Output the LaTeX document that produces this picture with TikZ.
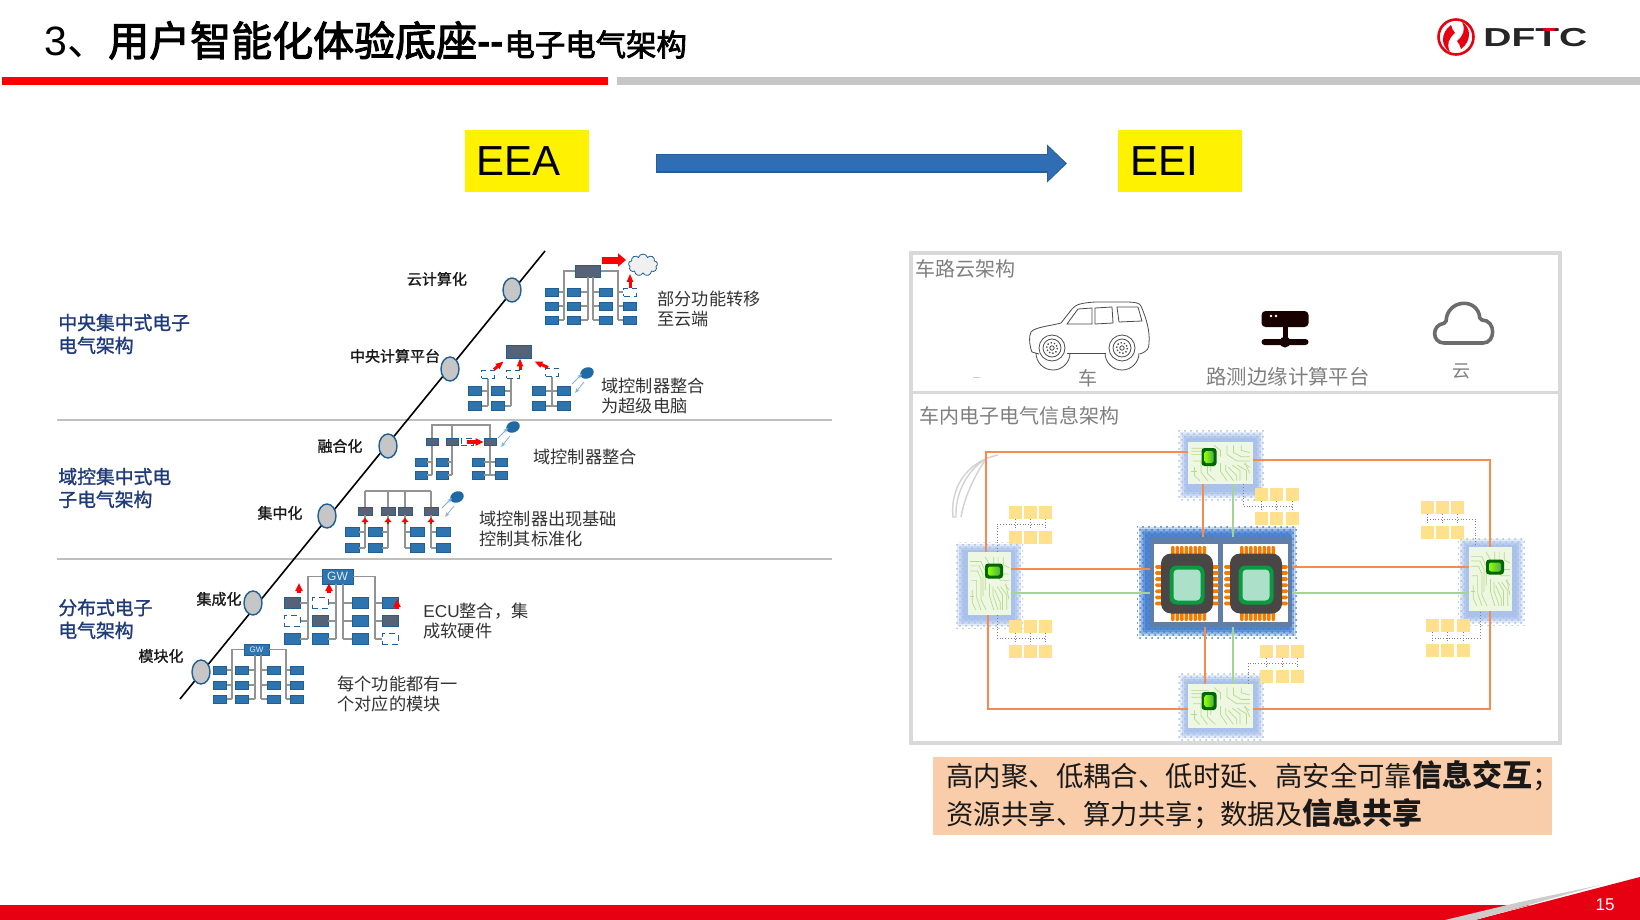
\documentclass[tikz,border=0pt]{standalone}
\usepackage{fontspec}
\setmainfont{Noto Sans CJK SC}
\newfontfamily\lat{Liberation Sans}
\newfontfamily\midf[FakeBold=1.3]{Noto Sans CJK SC}
\newfontfamily\titlef[FakeBold=2.6]{Noto Sans CJK SC}
\usetikzlibrary{arrows.meta,shapes.geometric,shapes.symbols,patterns,calc}
\definecolor{ecub}{HTML}{2E75B0}
\definecolor{eculine}{HTML}{1F5F93}
\definecolor{ecud}{HTML}{556378}
\definecolor{navy}{HTML}{1F3A78}
\definecolor{panelgrey}{HTML}{D9D9D9}
\definecolor{soft}{HTML}{7F7F7F}
\definecolor{org}{HTML}{F58B4C}
\definecolor{grn}{HTML}{A5D394}
\definecolor{yel}{HTML}{FFE08C}
\definecolor{ball}{HTML}{1F6AA5}
\definecolor{thinb}{HTML}{7FB0DC}
\definecolor{dfred}{HTML}{E60012}
\definecolor{haloa}{HTML}{A4BEEA}
\definecolor{halob}{HTML}{3F7BD0}
\definecolor{framec}{HTML}{5F7FA8}
\definecolor{chipc}{HTML}{4A4645}
\definecolor{pinc}{HTML}{F57C00}
\definecolor{tracec}{HTML}{B6DB8F}
\definecolor{boardc}{HTML}{EEF7E2}
\definecolor{arrowc}{HTML}{2F6DB5}
\definecolor{arrowl}{HTML}{2A5C96}
\definecolor{capc}{HTML}{F9CDA9}
\definecolor{mint}{HTML}{ADE0C8}
\definecolor{chipg}{HTML}{0A9A40}
\newcommand{\fsz}[1]{\fontsize{#1}{#1}\selectfont}
\tikzset{
  usest/.code={\tikzset{#1}},
  sz/.style n args={2}{minimum width=(#1)*0.5pt,minimum height=(#2)*0.5pt,inner sep=0pt},
  ecu/.style={draw=eculine,fill=ecub,line width=.4pt},
  ecudark/.style={draw=eculine,fill=ecud,line width=.4pt},
  ecudash/.style={draw=eculine,fill=white,densely dashed,line width=.5pt},
  bus/.style={draw=gray!85,line width=.55pt},
  redar/.style={draw=red,line width=#1*0.5pt,-{Triangle[length=4pt,width=#1*1pt]}},
  redar/.default=3,
  stepdot/.style={ellipse,draw=eculine,fill=gray!45,line width=.7pt,sz={18}{24}},
  stagelabel/.style={anchor=center,font=\fsz{7.5}\midf,text=black!90,inner sep=0pt},
  desc/.style={anchor=west,align=left,font=\fontsize{8.6}{10}\selectfont,text=black!80,inner sep=0pt},
  era/.style={anchor=west,align=left,font=\fontsize{9.4}{11.4}\selectfont\midf,text=navy,inner sep=0pt},
  panelhead/.style={anchor=west,font=\fsz{10},text=soft,inner sep=0pt},
  ybox/.style={fill=yel,sz={13}{13}},
  yline/.style={draw=gray,line width=.4pt,densely dotted},
  orgl/.style={draw=org,line width=.8pt},
  grnl/.style={draw=grn,line width=.8pt},
  board/.style={fill=boardc,draw=none},
  hl/.style={fill=yellow,inner sep=0pt,sz={124}{62}},
}
% column of modules:  prefix, x, bus x, anchor, size, rows, bus bottom y
\newcommand{\tcol}[7]{%
  \coordinate (#1-bus) at (#3,#7);
  \foreach \yy/\st [count=\i] in {#6}{%
    \node[usest/.expand once=\st,#5] (#1-\i) at (#2,\yy) {};
    \draw[bus] (#1-\i.#4) -- (#1-\i.#4 -| #1-bus);
  }}
% ball with two-way thin arrows
\newcommand{\ballsym}[3]{%
  \node[ellipse,fill=ball,rotate=25,sz={14}{11}] (#1) at (#2,#3) {};
  \draw[thinb,line width=.4pt,-{Stealth[length=2.5pt]}] ([shift={(-15,11)}]#1.center) -- ([shift={(-5,1)}]#1.center);
  \draw[thinb,line width=.4pt,-{Stealth[length=2.5pt]}] ([shift={(-3,9)}]#1.center) -- ([shift={(-12,20)}]#1.center);
}
% halo
\newcommand{\halo}[5]{%
  \fill[pattern=crosshatch dots,pattern color=#5] (#1,#2) rectangle (#3,#4);
  \foreach \k/\op in {2/.3,4/.4,6/.5,8/.6}{%
    \fill[#5,opacity=\op] (#1+\k,#2+\k) rectangle (#3-\k,#4-\k);}
}
% board traces in a 100x100 box
\newcommand{\traces}[4]{%
  \begin{scope}[shift={(#1,#2)},xscale=#3,yscale=#4,draw=tracec,line width=.35pt]
    \draw (5,15) -- (30,15) -- (40,30) -- (40,60);
    \draw (5,30) -- (22,30) -- (30,42) -- (30,75) -- (42,92);
    \draw (8,45) -- (20,45) -- (20,72) -- (30,92);
    \draw (10,60) -- (10,80) -- (18,92);
    \draw (5,22) -- (26,22) -- (35,36) -- (35,70);
    \draw (60,8) -- (60,30) -- (75,45) -- (95,45);
    \draw (70,8) -- (70,25) -- (82,35) -- (95,35);
    \draw (82,8) -- (82,20) -- (95,25);
    \draw (50,50) -- (50,70) -- (60,92);
    \draw (58,55) -- (58,68) -- (70,92);
    \draw (68,55) -- (80,68) -- (80,92);
    \draw (76,55) -- (90,68) -- (90,92);
    \draw (40,8) -- (50,20) -- (50,35);
    \draw (5,70) -- (14,70);
    \draw (86,52) -- (95,60);
    \draw (62,60) -- (75,80) -- (75,92);
    \draw (88,50) -- (95,75);
  \end{scope}}
% small green chip
\newcommand{\minichip}[5]{%
  \node[rounded corners=1.5pt,fill=green!40!black,sz={#4}{#5}] (#1) at (#2,#3) {};
  \node[rounded corners=.8pt,left color=lime!75!green,right color=green!55!black!70,sz={#4-6}{#5-6}] at (#2,#3) {};
}
% yellow block group
\newcommand{\ygroup}[4]{%
  \foreach \xx [count=\i] in {#2,#3,#4}{%
    \node[ybox] (#1-a\i) at (\xx,\yrowtop) {};
  }}
\newcommand{\yrow}[2]{%
  \foreach \xx [count=\i] in {1,2,3}{%
    \node[ybox] (#1-b\i) at ($(#1-a\i)+(0,#2)$) {};
    \draw[yline] (#1-a\i.south) -- (#1-b\i.north);
  }}
% big chip
\newcommand{\bigchip}[2]{%
  \foreach \q in {0,...,7}{%
    \fill[pinc,rounded corners=.6pt] (#2-16+\q*4.5,546) rectangle ++(3.6,9);
    \fill[pinc,rounded corners=.6pt] (#2-16+\q*4.5,612) rectangle ++(3.6,9);}
  \foreach \q in {0,...,6}{%
    \fill[pinc,rounded corners=.8pt] (#2-32,565+\q*6.1) rectangle ++(9,3.8);
    \fill[pinc,rounded corners=.8pt] (#2+23,565+\q*6.1) rectangle ++(9,3.8);}
  \node[fill=chipc,rounded corners=5pt,sz={52}{60}] (#1) at (#2,583.5) {};
  \node[fill=chipg,rounded corners=3.5pt,sz={35}{39}] at (#2,585) {};
  \node[fill=mint,rounded corners=2pt,sz={27}{31}] at (#2,585) {};
}
\begin{document}
\begin{tikzpicture}[x=0.5pt,y=-0.5pt]
\useasboundingbox (0,0) rectangle (1640,920);
\fill[white] (0,0) rectangle (1640,920);
% ---- header
\node[anchor=base west,inner sep=0pt,text=black] (title) at (44,56)
  {\fsz{20.5}{\lat 3}、{\titlef 用户智能化体验底座}{\lat\bfseries --}{\fsz{15.2}\titlef 电子电气架构}};
\fill[red] (2,77) rectangle (608,85);
\fill[gray!45] (617,77) rectangle (1640,85);
% logo
\draw[dfred,line width=1.3pt] (1456,37) circle [radius=17.5];
\fill[dfred] (1451,25) .. controls (1440,33) and (1441,47) .. (1450,52) .. controls (1446,44) and (1449,38) .. (1455,33) .. controls (1453,31) and (1452,28) .. (1451,25) -- cycle;
\fill[dfred] (1461,49) .. controls (1472,41) and (1471,27) .. (1462,22) .. controls (1466,30) and (1463,36) .. (1457,41) .. controls (1459,43) and (1460,46) .. (1461,49) -- cycle;
\node[anchor=west,inner sep=0pt,text=black!85] (dftc) at (1483,37.5) {\scalebox{1.5}[1]{\fsz{13}\lat\bfseries DFTC}};
\fill[dfred] (1543,28) rectangle (1555,31.5);
% ---- EEA -> EEI
\node[hl,font=\fsz{21}\lat,text width=50pt,align=left,text=black] (eea) at (526.5,161) {EEA};
\node[hl,font=\fsz{21}\lat,text width=50pt,align=left,text=black] (eei) at (1180,161) {EEI};
\coordinate (a1) at (656,163.5);
\coordinate (a2) at (1067,163.5);
\draw[draw=arrowl,line width=9.2pt,-{Triangle[length=10pt,width=18.5pt]}] (a1) -- (a2);
\draw[draw=arrowc,line width=8pt,shorten >=.8pt,shorten <=.4pt,-{Triangle[length=8.8pt,width=16.6pt]}] (a1) -- (a2);
% ---- left: dividers and diagonal
\coordinate (d1a) at (57,420); \coordinate (d1b) at (832,420);
\coordinate (d2a) at (57,559); \coordinate (d2b) at (832,559);
\draw[gray!50,line width=.7pt] (d1a) -- (d1b);
\draw[gray!50,line width=.7pt] (d2a) -- (d2b);
\coordinate (dg1) at (180,699); \coordinate (dg2) at (545,251);
\draw[black,line width=.8pt] (dg1) -- (dg2);
\node[stepdot] (s1) at (512,290) {};
\node[stepdot] (s2) at (450,369) {};
\node[stepdot] (s3) at (388,446) {};
\node[stepdot] (s4) at (327,516) {};
\node[stepdot] (s5) at (253,603) {};
\node[stepdot] (s6) at (201,672) {};
\node[stagelabel] (l1) at (437,279) {云计算化};
\node[stagelabel] (l2) at (395,356) {中央计算平台};
\node[stagelabel] (l3) at (340,446) {融合化};
\node[stagelabel] (l4) at (280,513) {集中化};
\node[stagelabel] (l5) at (219,599) {集成化};
\node[stagelabel] (l6) at (161,656) {模块化};
\node[era] (e1) at (58,334) {中央集中式电子\\电气架构};
\node[era] (e2) at (58,488) {域控集中式电\\子电气架构};
\node[era] (e3) at (58,619) {分布式电子\\电气架构};
\node[desc] (t1) at (657,309) {部分功能转移\\至云端};
\node[desc] (t2) at (601,396) {域控制器整合\\为超级电脑};
\node[desc] (t3) at (533,457) {域控制器整合};
\node[desc] (t4) at (479,529) {域控制器出现基础\\控制其标准化};
\node[desc] (t5) at (423,621) {{\lat ECU}整合，集\\成软硬件};
\node[desc] (t6) at (337,694) {每个功能都有一\\个对应的模块};
% ---- tree 1 (cloud computing)
\node[ecudark,sz={25}{12}] (p1) at (588,271) {};
\tcol{p1a}{552}{564}{east}{sz={13}{8}}{292/ecu,306/ecu,320/ecu}{320}
\tcol{p1b}{574}{588}{east}{sz={13}{8}}{292/ecu,306/ecu,320/ecu}{320}
\tcol{p1c}{606}{593}{west}{sz={13}{8}}{292/ecu,306/ecu,320/ecu}{320}
\tcol{p1d}{630}{618}{west}{sz={13}{8}}{292/ecudash,306/ecu,320/ecu}{320}
\draw[bus] (p1.west) -| (p1a-bus);
\draw[bus] (p1.south -| p1b-bus) -- (p1b-bus);
\draw[bus] (p1.south -| p1c-bus) -- (p1c-bus);
\draw[bus] (p1.east) -| (p1d-bus);
\node[cloud,cloud puffs=9,draw=eculine,fill=gray!12,line width=.4pt,sz={29}{22},aspect=1.4] (p1cl) at (643,265) {};
\draw[redar=7,-{Triangle[length=4pt,width=6.5pt]}] (602,260) -- (626,260);
\draw[redar=3] (p1d-1.north) -- (p1cl.south -| p1d-1);
% ---- tree 2 (central platform)
\node[ecudark,sz={25}{13}] (p2) at (518.5,351.5) {};
\node[ecudash,sz={13}{8}] (p2x) at (488,374) {};
\node[ecudash,sz={13}{8}] (p2y) at (513,374) {};
\node[ecudash,sz={13}{8}] (p2z) at (552,372) {};
\tcol{p2a}{475}{488}{east}{sz={13}{9}}{391/ecu,406/ecu}{406}
\tcol{p2b}{498}{511}{east}{sz={13}{9}}{391/ecu,406/ecu}{406}
\tcol{p2c}{539}{552}{east}{sz={13}{9}}{391/ecu,406/ecu}{406}
\tcol{p2d}{564}{552}{west}{sz={13}{9}}{391/ecu,406/ecu}{406}
\draw[bus] (p2x.south -| p2a-bus) -- (p2a-bus);
\draw[bus] (p2y.south -| p2b-bus) -- (p2b-bus);
\draw[bus] (p2z.south -| p2c-bus) -- (p2c-bus);
\draw[redar=3] ([xshift=3pt]p2x.north) -- ([shift={(-2,3)}]p2.south west);
\draw[redar=3] (p2y.north east) -- (p2.south -| p2y.north east);
\draw[redar=3] ([xshift=-2pt]p2z.north) -- ([shift={(3,3)}]p2.south east);
\ballsym{p2ball}{587}{373}
% ---- tree 3 (fusion)
\node[ecudark,sz={12}{7}] (p3x) at (432,442) {};
\node[ecudark,sz={12}{7}] (p3y) at (452,442) {};
\node[ecudark,sz={12}{7}] (p3z) at (490,442) {};
\node[ecudash,sz={12}{7}] (p3w) at (467,442) {};
\coordinate (p3l) at (432,425);
\draw[bus] (p3x.north) -- (p3l) -| (p3z.north);
\draw[bus] (p3y.north) -- (p3l -| p3y);
\tcol{p3a}{421}{432}{east}{sz={12}{8}}{462/ecu,475/ecu}{475}
\tcol{p3b}{442}{452}{east}{sz={12}{8}}{462/ecu,475/ecu}{475}
\tcol{p3c}{478}{490}{east}{sz={12}{8}}{462/ecu,475/ecu}{475}
\tcol{p3d}{501}{490}{west}{sz={12}{8}}{462/ecu,475/ecu}{475}
\draw[bus] (p3x.south) -- (p3a-bus);
\draw[bus] (p3y.south) -- (p3b-bus);
\draw[bus] (p3z.south) -- (p3c-bus);
\draw[redar=3.5] (p3w.center) -- (p3z.west);
\ballsym{p3ball}{513}{427}
% ---- tree 4 (centralised)
\coordinate (p4l) at (365,491);
\foreach \n/\xx in {a/365,b/388,c/405,d/431}{%
  \node[ecudark,sz={14}{8}] (p4\n) at (\xx,511) {};
  \draw[bus] (p4\n.north) -- (p4l -| p4\n);
}
\draw[bus] (p4l) -- (p4l -| p4d);
\tcol{p4e}{352}{365}{east}{sz={14}{9}}{532/ecu,548/ecu}{548}
\tcol{p4f}{375}{388}{east}{sz={14}{9}}{532/ecu,548/ecu}{548}
\tcol{p4g}{417}{405}{west}{sz={14}{9}}{532/ecu,548/ecu}{548}
\tcol{p4h}{443}{431}{west}{sz={14}{9}}{532/ecu,548/ecu}{548}
\draw[bus] (p4a.south) -- (p4e-bus);
\draw[bus] (p4b.south) -- (p4f-bus);
\draw[bus] (p4c.south) -- (p4g-bus);
\draw[bus] (p4d.south) -- (p4h-bus);
\foreach \n in {a,b,c,d}{%
  \draw[draw=red,line width=1.2pt,-{Triangle[length=2.2pt,width=3.6pt]}] ([yshift=-4.5pt]p4\n.south) -- ([yshift=-1.2pt]p4\n.south);
}
\ballsym{p4ball}{457}{497}
% ---- tree 5 (integration)
\node[fill=ecub,draw=eculine,line width=.4pt,sz={31}{15},text=white!85!ecub,font=\fsz{6}\lat] (p5) at (337.5,576.5) {GW};
\tcol{p5a}{292}{308}{east}{sz={16}{11}}{603/ecudark,621/ecudash,639/ecu}{639}
\tcol{p5b}{320}{336}{east}{sz={16}{11}}{603/ecudash,621/ecudark,639/ecu}{639}
\tcol{p5c}{360}{343}{west}{sz={16}{11}}{603/ecu,621/ecu,639/ecu}{639}
\tcol{p5d}{390}{375}{west}{sz={16}{11}}{603/ecu,621/ecudark,639/ecudash}{639}
\draw[bus] (p5.west) -| (p5a-bus);
\draw[bus] (p5.south -| p5b-bus) -- (p5b-bus);
\draw[bus] (p5.south -| p5c-bus) -- (p5c-bus);
\draw[bus] (p5.east) -| (p5d-bus);
\coordinate (r1) at (299,593); \coordinate (r2) at (329,593); \coordinate (r3) at (397,609);
\draw[redar=3.5] (r1) -- ++(0,-10);
\draw[redar=3.5] (r2) -- ++(0,-10);
\draw[redar=3.5] (r3) -- ++(0,-10);
% ---- tree 6 (modular)
\node[fill=ecub,draw=eculine,line width=.4pt,sz={25}{11},text=white!85!ecub,font=\fsz{4}\lat] (p6) at (256.5,649.5) {GW};
\tcol{p6a}{220}{232}{east}{sz={13}{8}}{670/ecu,685/ecu,699/ecu}{699}
\tcol{p6b}{242}{255}{east}{sz={13}{8}}{670/ecu,685/ecu,699/ecu}{699}
\tcol{p6c}{274}{261}{west}{sz={13}{8}}{670/ecu,685/ecu,699/ecu}{699}
\tcol{p6d}{297}{286}{west}{sz={13}{8}}{670/ecu,685/ecu,699/ecu}{699}
\draw[bus] (p6.west) -| (p6a-bus);
\draw[bus] (p6.south -| p6b-bus) -- (p6b-bus);
\draw[bus] (p6.south -| p6c-bus) -- (p6c-bus);
\draw[bus] (p6.east) -| (p6d-bus);
% ---- right panel
\draw[panelgrey,line width=1.8pt] (911,253) rectangle (1560,743);
\draw[panelgrey,line width=1.5pt] (911,392) -- (1560,392);
\node[panelhead] (h1) at (915.5,269) {车路云架构};
\node[panelhead] (h2) at (919.5,415.5) {车内电子电气信息架构};
\node[anchor=center,font=\fsz{9.5},text=soft,inner sep=0pt] (c1) at (1088,378) {车};
\node[anchor=center,font=\fsz{10.2},text=soft,inner sep=0pt] (c2) at (1288,376.5) {路测边缘计算平台};
\node[anchor=center,font=\fsz{9},text=soft,inner sep=0pt] (c3) at (1461,371) {云};
% car
\begin{scope}[draw=black!70,line width=.4pt]
\draw (1039,354) -- (1032,352) .. controls (1029,345) and (1029,335) .. (1031,332) .. controls (1035,327) and (1050,326) .. (1061,323)
  -- (1072,309) .. controls (1076,304) and (1082,303) .. (1095,302) -- (1125,302) .. controls (1135,302) and (1140,303) .. (1141,306)
  .. controls (1147,320) and (1150,332) .. (1149,343) .. controls (1149,348) and (1148,351) .. (1140,354);
\draw (1067,353) -- (1106,353);
\draw (1067,324) -- (1078,309) -- (1092,308) -- (1092,324) -- cycle;
\draw (1095,308) -- (1112,307) -- (1113,323) -- (1095,324) -- cycle;
\draw (1117,307) -- (1138,307) -- (1142,321) -- (1119,322) -- cycle;
\draw (1036,353) arc[start angle=180,end angle=0,radius=17] ;
\draw (1105,353) arc[start angle=180,end angle=0,radius=17];
\foreach \wx in {1052,1122}{%
  \draw[fill=white] (\wx,348) circle[radius=13];
  \draw (\wx,348) circle[radius=9];
  \draw[densely dotted,line width=.7pt] (\wx,348) circle[radius=5.5];
  \draw (\wx,348) circle[radius=2.2];
}
\end{scope}
% router
\node[fill=black!90!red,rounded corners=2pt,sz={47}{16}] (rt) at (1285,319) {};
\fill[white] (1271,316) circle[radius=1.3];
\fill[white] (1276,316) circle[radius=1.3];
\node[fill=black!90!red,rounded corners=1.5pt,sz={47}{6}] (rtb) at (1285,342) {};
\draw[black!90!red,line width=2.5pt] (rt.south) -- (rtb.north);
\node[circle,fill=black!90!red,sz={11}{11}] (rtc) at (1285,342) {};
% cloud icon
\draw[gray!85!black,line width=1.8pt,rounded corners=1pt] (1446,343) .. controls (1432,343) and (1431,325) .. (1446,323) .. controls (1447,299) and (1478,297) .. (1480,320)
  .. controls (1496,320) and (1496,343) .. (1481,343) -- cycle;
\fill[gray!40] (973,377) rectangle (980,377.6);
% leaf
\draw[gray!35,line width=.7pt] (998,455) .. controls (965,462) and (950,490) .. (953,517) -- (956,517) .. controls (955,490) and (970,468) .. (986,459);
\draw[gray!35,line width=.7pt] (986,459) .. controls (975,475) and (965,495) .. (961,517);
% halos
\halo{1178}{430}{1265}{500}{haloa}
\halo{955}{542}{1023}{628}{haloa}
\halo{1178}{673}{1265}{740}{haloa}
\halo{1458}{537}{1525}{625}{haloa}
\halo{1137}{525}{1298}{638}{halob}
% boards
\node[board,sz={65}{42}] (tb) at (1220.5,463) {};
\traces{1188}{442}{.65}{.42}
\node[board,sz={43}{63}] (lb) at (989.5,583.5) {};
\traces{968}{552}{.43}{.63}
\node[board,sz={65}{44}] (bb) at (1220.5,706) {};
\traces{1188}{684}{.65}{.44}
\node[board,sz={43}{64}] (rb) at (1490.5,579) {};
\traces{1469}{547}{.43}{.64}
\minichip{tc}{1209}{457}{15}{18}
\minichip{lc}{994}{571}{18}{15}
\minichip{bc}{1209}{701}{15}{18}
\minichip{rc}{1495}{567}{18}{15}
% central unit
\node[fill=framec,sz={142}{90}] (cf) at (1221,582) {};
\node[fill=white,sz={64}{78}] (cl) at (1186,583) {};
\node[fill=white,sz={65}{78}] (cr) at (1255.5,583) {};
\bigchip{ca}{1187}
\bigchip{cb}{1256}
% connectors
\coordinate (o1) at (986,452);
\draw[orgl] (lb.north -| o1) -- (o1) -- (o1 -| tb.west);
\coordinate (o2) at (1490,460);
\draw[orgl] (tb.east |- o2) -- (o2) -- (rb.north -| o2);
\coordinate (o3) at (1490,709);
\draw[orgl] (rb.south -| o3) -- (o3) -- (o3 -| bb.east);
\coordinate (o4) at (988,709);
\draw[orgl] (bb.west |- o4) -- (o4) -- (lb.south -| o4);
\coordinate (o5) at (1100,569);
\draw[orgl] (lb.east |- o5) -- (cf.west |- o5);
\coordinate (o6) at (1380,567);
\draw[orgl] (cf.east |- o6) -- (rb.west |- o6);
\coordinate (g5) at (1100,593);
\draw[grnl] (lb.east |- g5) -- (cf.west |- g5);
\draw[grnl] (cf.east |- g5) -- (rb.west |- g5);
\coordinate (o7) at (1203,510);
\draw[orgl] (tb.south -| o7) -- (cf.north -| o7);
\coordinate (g7) at (1233,510);
\draw[grnl] (tb.south -| g7) -- (cf.north -| g7);
\coordinate (o8) at (1205,650);
\draw[orgl] (cf.south -| o8) -- (bb.north -| o8);
\draw[grnl] (cf.south -| g7) -- (bb.north -| g7);
% yellow groups
\def\yrowtop{494}\ygroup{ya}{1261}{1276}{1292} \yrow{ya}{24}
\coordinate (ya0) at (1243,506);
\draw[yline] (tb.south -| ya0) -- (ya0) -- (ya0 -| ya-a3);
\def\yrowtop{512}\ygroup{yb}{1015}{1030}{1045} \yrow{yb}{25}
\coordinate (yb0) at (997,524);
\draw[yline] (lb.north -| yb0) -- (yb0) -- (yb0 -| yb-a3);
\def\yrowtop{626}\ygroup{yc}{1015}{1030}{1045} \yrow{yc}{25}
\coordinate (yc0) at (997,638);
\draw[yline] (lb.south -| yc0) -- (yc0) -- (yc0 -| yc-a3);
\def\yrowtop{651}\ygroup{yd}{1266}{1282}{1297} \yrow{yd}{25}
\coordinate (yd0) at (1248,663);
\draw[yline] (bb.north -| yd0) -- (yd0) -- (yd0 -| yd-a3);
\def\yrowtop{507}\ygroup{ye}{1427}{1442}{1457} \yrow{ye}{25}
\coordinate (ye0) at (1475,519);
\draw[yline] (ye0 -| ye-a1) -- (ye0) -- (rb.north -| ye0);
\def\yrowtop{625}\ygroup{yf}{1432}{1447}{1463} \yrow{yf}{25}
\coordinate (yf0) at (1480,638);
\draw[yline] (yf0 -| yf-a1) -- (yf0) -- (rb.south -| yf0);
% caption
\node[fill=capc,sz={619}{78},anchor=north west] (cap) at (933,757) {};
\node[anchor=base west,inner sep=0pt,text=black!90] (cap1) at (946,786) {\fsz{13.7}高内聚、低耦合、低时延、高安全可靠{\fsz{15}\textbf{信息交互}}；};
\node[anchor=base west,inner sep=0pt,text=black!90] (cap2) at (946,824) {\fsz{13.7}资源共享、算力共享；数据及{\fsz{15}\textbf{信息共享}}};
% footer
\fill[dfred] (0,905) -- (1530,905) -- (1470,920) -- (0,920) -- cycle;
\fill[dfred] (1475,920) -- (1640,877) -- (1640,920) -- cycle;
\fill[gray!40] (1445,920) -- (1520,902) -- (1600,885) -- (1475,920) -- cycle;
\node[text=white,font=\fsz{8.5}\lat,inner sep=0pt] (pg) at (1605,905) {15};
\end{tikzpicture}
\end{document}
